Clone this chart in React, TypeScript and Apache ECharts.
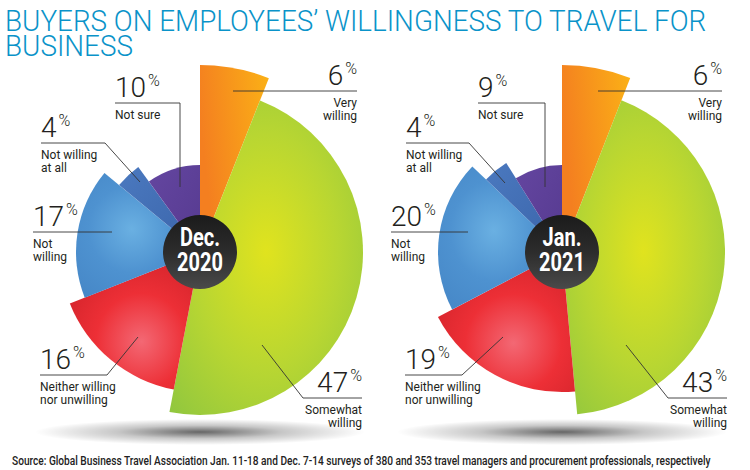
import React, { useEffect, useRef } from 'react';
import * as echarts from 'echarts';

// ---------- data ----------
const categories = ['Very willing', 'Somewhat willing', 'Neither willing nor unwilling', 'Not willing', 'Not willing at all', 'Not sure'];
const categoryLabels = ['Very\nwilling', 'Somewhat\nwilling', 'Neither willing\nnor unwilling', 'Not\nwilling', 'Not willing\nat all', 'Not sure'];
const dec2020 = [6, 47, 16, 17, 4, 10];
const jan2021 = [6, 43, 19, 20, 4, 9];
const periods = [['Dec.', '2020'], ['Jan.', '2021']];
const titleLines = ['BUYERS ON EMPLOYEES\u2019 WILLINGNESS TO TRAVEL FOR', 'BUSINESS'];
const sourceText = 'Source: Global Business Travel Association Jan. 11-18 and Dec. 7-14 surveys of 380 and 353 travel managers and procurement professionals, respectively';

// ---------- layout / style ----------
const SERIES = [dec2020, jan2021];
const CENTERS = [[200, 252], [562, 252]];
const SLICE_R = [187, 163, 140, 124, 105, 87];
const HOLE_R = 37;

type Ann = { x: number; lineY: number; align: 'left' | 'right'; pts: number[][] };
const ANN: Ann[][] = [
  [
    { x: 357, lineY: 91, align: 'right', pts: [[233, 91], [357, 91]] },
    { x: 362, lineY: 398, align: 'right', pts: [[262, 345], [303, 398], [362, 398]] },
    { x: 40, lineY: 375, align: 'left', pts: [[40, 375], [107, 375], [138, 337]] },
    { x: 33, lineY: 232, align: 'left', pts: [[33, 232], [112, 232]] },
    { x: 41, lineY: 143, align: 'left', pts: [[41, 143], [105, 143], [140, 182]] },
    { x: 115, lineY: 103, align: 'left', pts: [[115, 103], [180, 103], [180, 187]] },
  ],
  [
    { x: 722, lineY: 91, align: 'right', pts: [[598, 91], [722, 91]] },
    { x: 727, lineY: 398, align: 'right', pts: [[626, 345], [668, 398], [727, 398]] },
    { x: 405, lineY: 375, align: 'left', pts: [[405, 375], [462, 375], [503, 337]] },
    { x: 391, lineY: 232, align: 'left', pts: [[391, 232], [468, 232]] },
    { x: 406, lineY: 143, align: 'left', pts: [[406, 143], [469, 143], [505, 183]] },
    { x: 478, lineY: 103, align: 'left', pts: [[478, 103], [545, 103], [545, 187]] },
  ],
];

const radial = (x: number, y: number, r: number, stops: string[]) => ({
  type: 'radial', x, y, r,
  colorStops: stops.map((c, i) => ({ offset: i / (stops.length - 1), color: c })),
});
const linear = (x: number, y: number, x2: number, y2: number, stops: string[]) => ({
  type: 'linear', x, y, x2, y2,
  colorStops: stops.map((c, i) => ({ offset: i / (stops.length - 1), color: c })),
});

const FILLS = [
  linear(0, 0.3, 1, 0, ['#f47f20', '#fbb116']),
  radial(0.5, 0.48, 0.75, ['#e0e31e', '#b8d632', '#8cc540']),
  radial(0.55, 0.65, 0.7, ['#f36874', '#ed2f36', '#d1232a']),
  radial(0.45, 0.45, 0.7, ['#6ab0e2', '#4e92d0', '#4586c6']),
  linear(0, 0, 1, 1, ['#4b79bf', '#3a64aa']),
  linear(0, 0, 1, 1, ['#6446a0', '#563a90']),
];

const TEXT_COLOR = '#231f20';

function measure(text: string, font: string) {
  const ctx = document.createElement('canvas').getContext('2d')!;
  ctx.font = font;
  return ctx.measureText(text).width;
}

export default function App() {
  const ref = useRef<HTMLDivElement>(null);
  useEffect(() => {
    if (!ref.current) return;
    const chart = echarts.init(ref.current, null, { renderer: 'svg' });

    const series: any[] = [];
    SERIES.forEach((vals, p) => {
      vals.forEach((_, i) => {
        series.push({
          type: 'pie',
          name: `${periods[p].join(' ')} - ${categories[i]}`,
          center: CENTERS[p],
          radius: [0, SLICE_R[i]],
          startAngle: 90,
          clockwise: true,
          silent: true,
          label: { show: false },
          labelLine: { show: false },
          emphasis: { disabled: true },
          itemStyle: { borderWidth: 0 },
          data: vals.map((v, j) => ({
            name: categories[j],
            value: v,
            itemStyle: { color: j === i ? FILLS[i] : 'rgba(0,0,0,0)' },
          })),
        });
      });
    });

    const elements: any[] = [];
    // shadows
    CENTERS.forEach(([cx]) => {
      elements.push({
        type: 'ellipse', z: -10,
        shape: { cx: cx, cy: 432, rx: 165, ry: 13 },
        style: { fill: radial(0.5, 0.5, 0.5, ['rgba(0,0,0,0.6)', 'rgba(0,0,0,0.22)', 'rgba(0,0,0,0)']) },
      });
    });

    // title
    const titleFont = '300 29.5px Roboto';
    const tw = measure(titleLines[0], titleFont);
    const tScale = 703 / tw;
    titleLines.forEach((t, k) => {
      elements.push({
        type: 'text', x: 5, y: 20.5 + k * 25, scaleX: tScale,
        style: { text: t, font: titleFont, fill: '#0a93c9', textAlign: 'left', textVerticalAlign: 'middle' },
      });
    });

    // source
    const srcFont = '500 12px Roboto';
    const sw = measure(sourceText, srcFont);
    elements.push({
      type: 'text', x: 12, y: 461, scaleX: 700 / sw,
      style: { text: sourceText, font: srcFont, fill: '#222', textAlign: 'left', textVerticalAlign: 'middle' },
    });

    // center holes + period labels
    CENTERS.forEach(([cx, cy], p) => {
      elements.push({
        type: 'circle', z: 10,
        shape: { cx, cy, r: HOLE_R },
        style: { fill: linear(0, 0, 0, 1, ['#1b1b1b', '#2c2c2c', '#4a4a4a']) },
      });
      periods[p].forEach((t, k) => {
        elements.push({
          type: 'text', z: 11, x: cx, y: cy - 14 + k * 25, scaleX: 0.8,
          style: { text: t, font: 'bold 25px Roboto', fill: '#ffffff', textAlign: 'center', textVerticalAlign: 'middle' },
        });
      });
    });

    // annotations
    ANN.forEach((list, p) => {
      list.forEach((a, i) => {
        elements.push({
          type: 'polyline', z: 20,
          shape: { points: a.pts },
          style: { stroke: '#333', lineWidth: 0.9, fill: null },
        });
        elements.push({
          type: 'text', z: 20, x: a.x, y: a.lineY - 16,
          style: {
            text: `{n|${SERIES[p][i]}}{p|%}`,
            textAlign: a.align, textVerticalAlign: 'middle',
            rich: {
              n: { fontFamily: 'Roboto', fontWeight: 300, fontSize: 28, lineHeight: 30, fill: TEXT_COLOR },
              p: { fontFamily: 'Roboto', fontWeight: 300, fontSize: 16, lineHeight: 20, verticalAlign: 'top', fill: TEXT_COLOR, padding: [0, 0, 0, 2] },
            },
          },
        });
        elements.push({
          type: 'text', z: 20, x: a.x, y: a.lineY + 6,
          style: {
            text: categoryLabels[i], font: '12px Roboto', lineHeight: 12.5,
            fill: TEXT_COLOR, textAlign: a.align, textVerticalAlign: 'top',
          },
        });
      });
    });

    chart.setOption({
      animation: false,
      backgroundColor: '#ffffff',
      series,
      graphic: { elements },
    });
    return () => chart.dispose();
  }, []);
  return <div ref={ref} style={{ position: 'fixed', left: 0, top: 0, width: 750, height: 470 }} />;
}
